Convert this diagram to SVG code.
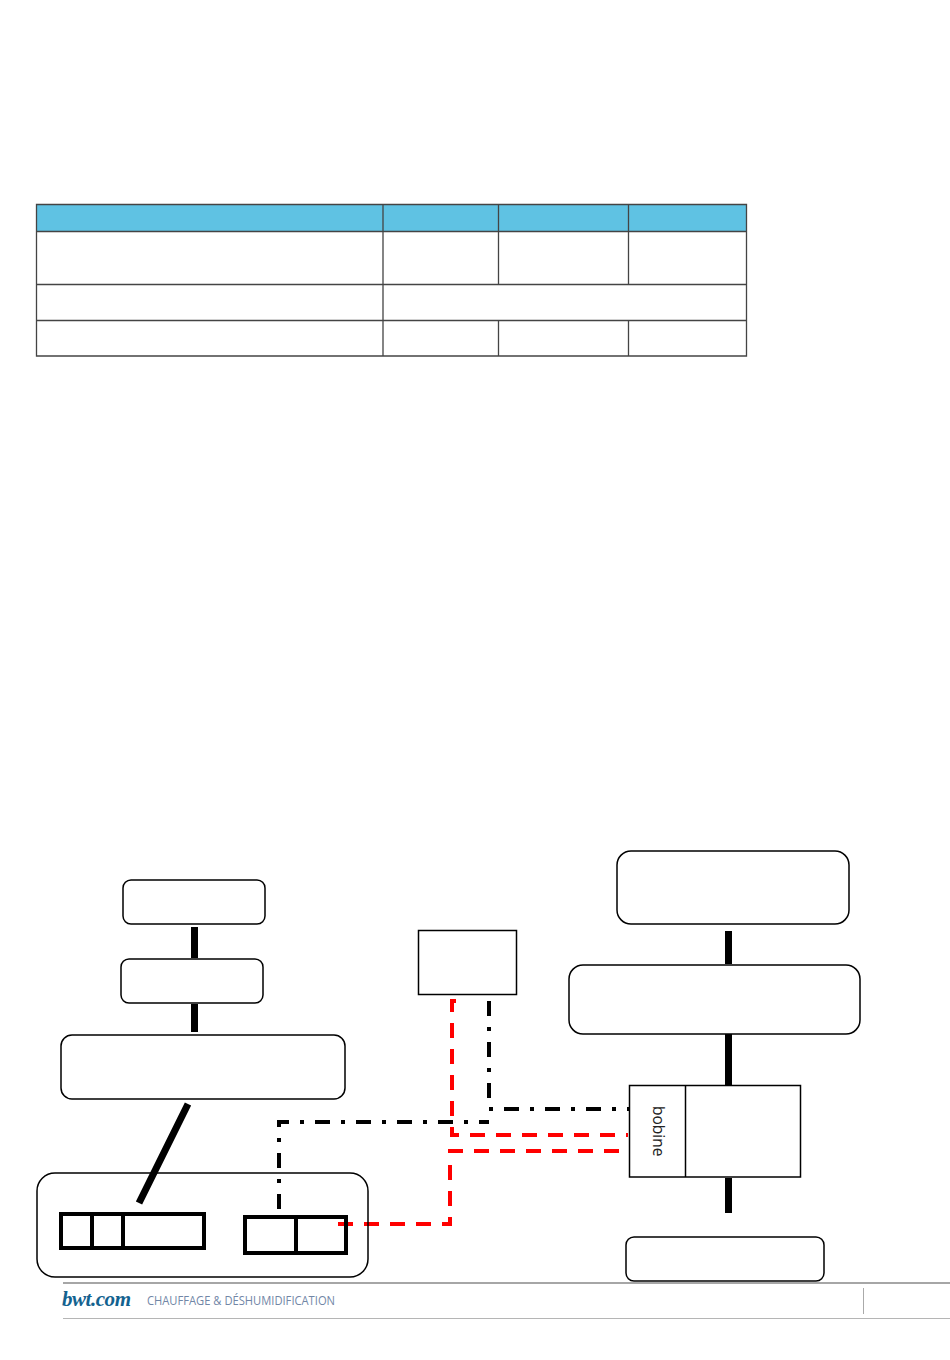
<svg xmlns="http://www.w3.org/2000/svg" width="950" height="1360" viewBox="0 0 950 1360">
<style>
.n{fill:#fff;stroke:#000;stroke-width:1.5}
.t{stroke:#000;stroke-width:7;fill:none}
.b{fill:none;stroke:#000;stroke-width:4}
.dd{fill:none;stroke:#000;stroke-width:4;stroke-dasharray:15 11 4 11}
.rd{fill:none;stroke:#f00;stroke-width:4;stroke-dasharray:15 11}
.g{stroke:#444;stroke-width:1.3;fill:none}
</style>
<rect width="950" height="1360" fill="#fff"/>
<g id="table">
<rect x="36.5" y="204.5" width="710" height="27" fill="#5fc2e3"/>
<path class="g" d="M36.5 204.5H746.5V356H36.5ZM36.5 231.5H746.5M36.5 284.5H746.5M36.5 320.5H746.5M383 204.5V356M498.5 204.5V284.5M498.5 320.5V356M628.5 204.5V284.5M628.5 320.5V356"/>
</g>
<g id="connectors">
<path class="t" d="M194.5 927V958M194.5 1004V1032M188 1104L139 1203M728.5 931V964M728.5 1034V1085M728.5 1178V1213"/>
<path class="dd" d="M489 1001V1109H629"/>
<path class="dd" d="M279 1209V1122H489"/>
<path class="rd" d="M456 1001H452V1135H628"/>
<path class="rd" d="M338 1224H450V1160"/>
<path class="rd" d="M448 1151H620"/>
</g>
<g id="node-a"><rect class="n" x="123" y="880" width="142" height="44" rx="8"/></g>
<g id="node-b"><rect class="n" x="121" y="959" width="142" height="44" rx="8"/></g>
<g id="node-c"><rect class="n" x="61" y="1035" width="284" height="64" rx="11"/></g>
<g id="node-d"><rect class="n" x="37" y="1173" width="331" height="104" rx="18" style="fill:none"/>
<path class="b" d="M61 1214H204V1248H61ZM92 1214V1248M123 1214V1248M245 1217H346V1253H245ZM296 1217V1253"/></g>
<g id="node-e"><rect class="n" x="418.5" y="930.5" width="98" height="64"/></g>
<g id="node-f"><rect class="n" x="617" y="851" width="232" height="73" rx="14"/></g>
<g id="node-g"><rect class="n" x="569" y="965" width="291" height="69" rx="14"/></g>
<g id="node-h"><rect class="n" x="629.5" y="1085.5" width="171" height="91.5"/><path class="n" d="M685.5 1085.5V1177"/>
<text transform="translate(652.5 1106) rotate(90)" font-family="'Open Sans',sans-serif" font-size="15.5" fill="#222">bobine</text></g>
<g id="node-i"><rect class="n" x="626" y="1237" width="198" height="44" rx="8"/></g>
<g id="footer">
<path d="M63 1283H950" stroke="#888" stroke-width="1.6"/>
<path d="M63 1318.5H950" stroke="#b5b5b5"/>
<path d="M863.5 1288V1314" stroke="#aaa"/>
<text x="62" y="1306" font-family="'Liberation Serif',serif" font-style="italic" font-weight="bold" font-size="21" fill="#13628f" textLength="69">bwt.com</text>
<text x="147" y="1305" font-family="'Open Sans',sans-serif" font-size="12" fill="#7186a6" textLength="188" lengthAdjust="spacingAndGlyphs">CHAUFFAGE &amp; DÉSHUMIDIFICATION</text>
</g>
</svg>
